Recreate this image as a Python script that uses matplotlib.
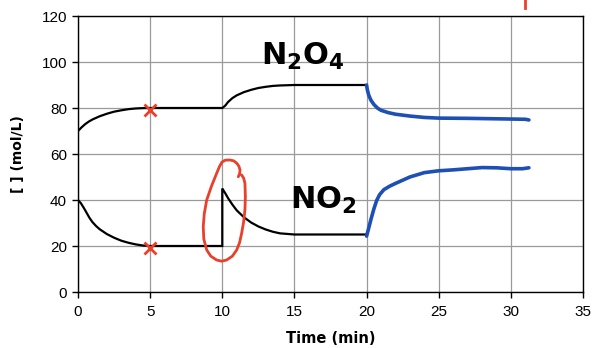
import matplotlib
matplotlib.use("Agg")
import matplotlib.pyplot as plt

# --- data ---
t_n2o4 = [0, 0.25, 0.5, 0.75, 1, 1.5, 2, 2.5, 3, 3.5, 4, 4.5, 5, 10, 10.2, 10.4, 10.7, 11, 11.5, 12, 12.5, 13, 13.5, 14, 15, 20]
n2o4 = [70, 71.6, 73.0, 74.1, 75.0, 76.4, 77.5, 78.4, 79.0, 79.5, 79.8, 79.95, 80, 80, 81.0, 82.6, 84.3, 85.5, 86.9, 87.9, 88.7, 89.2, 89.6, 89.8, 90, 90]

t_no2 = [0, 0.2, 0.4, 0.6, 0.8, 1, 1.25, 1.5, 2, 2.5, 3, 3.5, 4, 4.5, 5, 10, 10, 10.2, 10.4, 10.7, 11, 11.5, 12, 12.5, 13, 13.5, 14, 15, 20]
no2 = [40, 38.6, 36.6, 34.4, 32.2, 30.4, 28.7, 27.3, 25.2, 23.6, 22.3, 21.4, 20.7, 20.2, 20, 20, 45, 43.0, 40.8, 38.0, 35.5, 32.5, 30.2, 28.5, 27.2, 26.2, 25.5, 25, 25]

t_blue_n2o4 = [20, 20.05, 20.15, 20.3, 20.5, 20.75, 21, 21.5, 22, 23, 24, 25, 27, 29, 31, 31.25]
blue_n2o4 = [90, 88.0, 85.6, 83.4, 81.6, 80.0, 79.0, 78.0, 77.3, 76.5, 75.9, 75.6, 75.5, 75.3, 75.1, 74.8]

t_blue_no2 = [20, 20.15, 20.3, 20.5, 20.7, 20.9, 21.2, 21.6, 22.0, 22.5, 23, 24, 25, 26, 27, 28, 29, 30, 30.8, 31.25]
blue_no2 = [24.3, 27.8, 31.5, 36.0, 39.8, 42.3, 44.5, 46.0, 47.2, 48.6, 50.0, 51.9, 52.7, 53.1, 53.6, 54.1, 54.0, 53.6, 53.6, 54.0]

x_marks_t = [5, 5]
x_marks_y = [79, 19]

loop_t = [11.11, 11.2, 11.23, 11.15, 11.0, 10.8, 10.53, 10.2, 9.98, 9.8, 9.61, 9.25, 8.92, 8.75, 8.68, 8.72, 8.92, 9.2, 9.61, 9.95, 10.3, 10.7, 11.0, 11.2, 11.34, 11.48, 11.57, 11.6, 11.57, 11.48, 11.34]
loop_y = [50.1, 51.5, 53.0, 54.7, 56.0, 57.0, 57.4, 57.3, 56.5, 54.5, 51.6, 46.0, 40.0, 34.0, 28.4, 23.0, 18.3, 15.6, 13.9, 13.4, 13.9, 15.6, 18.3, 21.5, 25.5, 30.5, 35.7, 41.5, 47.3, 49.5, 50.9]

stroke_t = [31.0, 31.0]
stroke_y = [123.5, 127.5]

xticks = [0, 5, 10, 15, 20, 25, 30, 35]
yticks = [0, 20, 40, 60, 80, 100, 120]

fig = plt.figure(figsize=(5.93, 3.48), dpi=100)
ax = fig.add_axes([78/593, 56/348, 505/593, 276/348])
ax.set_xlim(0, 35)
ax.set_ylim(0, 120)
ax.set_xticks(xticks)
ax.set_yticks(yticks)
ax.grid(True, color="#9a9a9a", linewidth=0.9)
ax.set_axisbelow(True)
for s in ax.spines.values():
    s.set_color("black")
    s.set_linewidth(1.0)
ax.tick_params(direction="out", length=4, width=1, labelsize=11)
ax.tick_params(axis="x", pad=5)
ax.tick_params(axis="y", pad=4)
for lab in ax.get_xticklabels() + ax.get_yticklabels():
    lab.set_fontfamily("Liberation Sans")

ax.set_xlabel("Time (min)", fontsize=10.5, fontweight="bold", family="DejaVu Sans", labelpad=9)
ax.set_ylabel("[ ] (mol/L)", fontsize=10, fontweight="bold", family="DejaVu Sans", labelpad=12)

ax.plot(t_n2o4, n2o4, color="black", lw=1.6, solid_capstyle="butt")
ax.plot(t_no2, no2, color="black", lw=1.6, solid_joinstyle="miter")
ax.plot(t_blue_n2o4, blue_n2o4, color="#1d4fb5", lw=2.6, solid_capstyle="round")
ax.plot(t_blue_no2, blue_no2, color="#1d4fb5", lw=2.6, solid_capstyle="round")

ax.plot(x_marks_t, x_marks_y, linestyle="none", marker="x", markersize=9, mew=2.0, color="#e8402a")
ax.plot(loop_t, loop_y, color="#e8402a", lw=2.0, solid_capstyle="round", solid_joinstyle="round")
ax.plot(stroke_t, stroke_y, color="#e8402a", lw=2.0, clip_on=False)

ax.text(15.6, 102.6, r"$\mathbf{N_2O_4}$", fontsize=22, ha="center", va="center")
ax.text(17.0, 40, r"$\mathbf{NO_2}$", fontsize=22, ha="center", va="center")

fig.savefig("out.png", dpi=100)
